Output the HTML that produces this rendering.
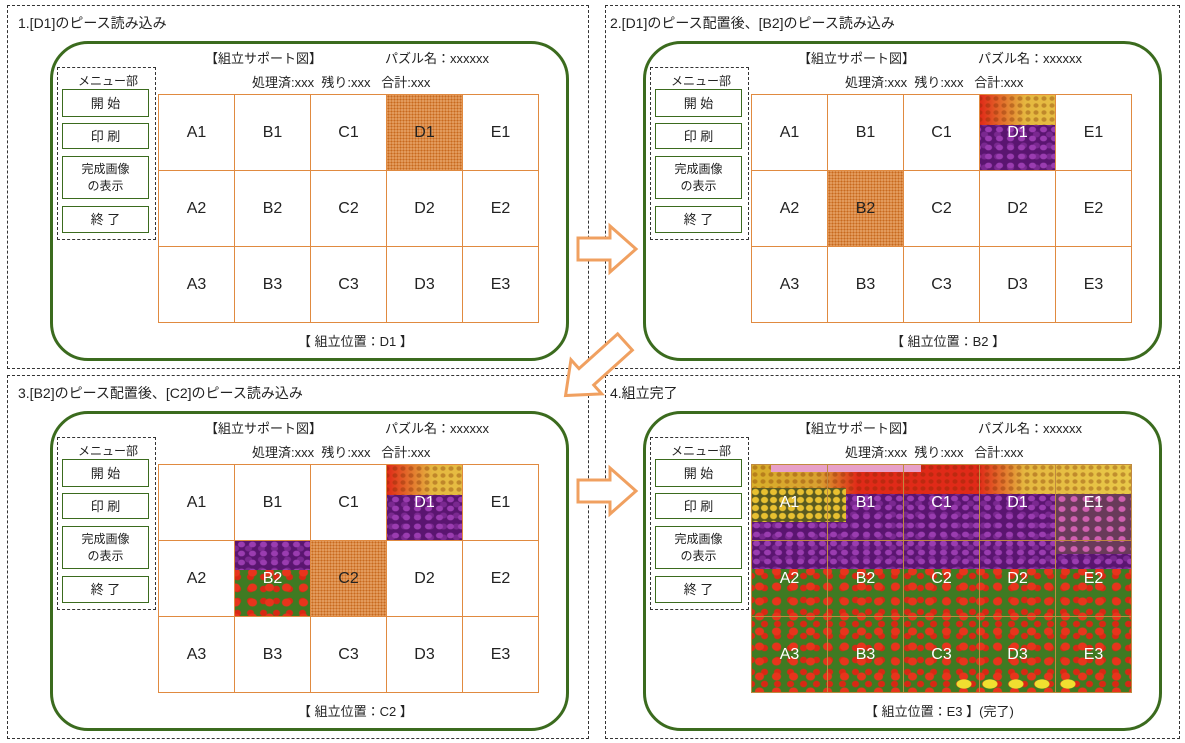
<!DOCTYPE html>
<html><head><meta charset="utf-8">
<style>
*{margin:0;padding:0;box-sizing:border-box}
body{width:1185px;height:743px;background:#fff;position:relative;overflow:hidden;font-family:"Liberation Sans","Noto Sans CJK JP",sans-serif;color:#222}
.a{position:absolute}
.dash{position:absolute;border:1px dashed #333}
.pw{position:absolute;left:0;top:0;width:600px;height:370px}
.rr{position:absolute;left:50px;top:41px;width:519px;height:320px;border:3px solid #3b6b1e;border-radius:38px}
.t{position:absolute;font-size:13px;white-space:nowrap}
.menu{position:absolute;left:57px;top:67px;width:99px;height:173px;border:1px dashed #333}
.btn{position:absolute;left:62px;width:87px;border:1.5px solid #3b6b1e;font-size:13px;display:flex;align-items:center;justify-content:center;text-align:center;line-height:17px;background:#fff}
.grid{position:absolute;left:158px;top:94px;width:381px;height:229px}
.c{position:absolute;width:77px;height:77px;border:1px solid #e08a40;display:flex;align-items:center;justify-content:center;font-size:16px;overflow:hidden}
.c span{position:relative;z-index:2}
.hat{background:#e29a5c;background-image:radial-gradient(#c8691e 0.8px,transparent 1px);background-size:3px 3px}
.tul{position:absolute;width:380px;height:228px;left:0;top:0}
.b1{position:absolute;left:0;top:0;width:380px;height:32px;background:linear-gradient(90deg,#d9b02a 0%,#d9a030 18%,#e02a18 28%,#e02a18 60%,#e5b840 72%,#e8c848 100%)}
.b1d{position:absolute;left:0;top:0;width:380px;height:32px;background-image:radial-gradient(rgba(120,40,0,.35) 0 2px,transparent 3px);background-size:8px 7px}
.b0{position:absolute;left:20px;top:0;width:150px;height:8px;background:#e8a0c8}
.by{position:absolute;left:0;top:24px;width:95px;height:34px;background:#5a5a20;background-image:radial-gradient(#e8c030 0 3px,transparent 4px);background-size:9px 8px}
.b2{position:absolute;left:0;top:30px;width:380px;height:75px;background:#5a1570;background-image:radial-gradient(#9a3cb0 0 3px,transparent 4px),radial-gradient(#7a2890 0 3px,transparent 4px);background-size:11px 9px,13px 11px;background-position:0 0,5px 4px}
.b2p{position:absolute;left:305px;top:30px;width:75px;height:60px;background:#6a3a5a;background-image:radial-gradient(#d060b0 0 3px,transparent 4px);background-size:12px 10px}
.b3{position:absolute;left:0;top:100px;width:380px;height:128px;background:#3f7a22;background-image:radial-gradient(#e8341c 0 4px,transparent 5px),radial-gradient(#d82814 0 3px,transparent 4px);background-size:17px 15px,13px 12px;background-position:0 0,7px 6px}
.b4{position:absolute;left:200px;top:212px;width:130px;height:16px;background:radial-gradient(#f0e030 0 7px,transparent 8px);background-size:26px 16px}
.wl span{color:#fff}
</style></head><body>

<div class="dash" style="left:7px;top:5px;width:582px;height:364px"></div>
<div class="dash" style="left:605px;top:5px;width:575px;height:364px"></div>
<div class="dash" style="left:7px;top:375px;width:582px;height:364px"></div>
<div class="dash" style="left:605px;top:375px;width:575px;height:364px"></div>

<div class="pw" style="left:0;top:0">
<div class="t" style="left:18px;top:13px;font-size:14px">1.[D1]のピース読み込み</div>
<div class="rr"></div>
<div class="t" style="left:205px;top:48px">【組立サポート図】</div>
<div class="t" style="left:385px;top:48px">パズル名：xxxxxx</div>
<div class="t" style="left:252px;top:72px">処理済:xxx&nbsp; 残り:xxx&nbsp;&nbsp; 合計:xxx</div>
<div class="menu"></div>
<div class="t" style="left:78px;top:72px;font-size:12px">メニュー部</div>
<div class="btn" style="top:89px;height:28px">開 始</div>
<div class="btn" style="top:123px;height:26px">印 刷</div>
<div class="btn" style="top:156px;height:43px;font-size:12px">完成画像<br>の表示</div>
<div class="btn" style="top:206px;height:27px">終 了</div>
<div class="grid">
<div class="c" style="left:0;top:0"><span>A1</span></div><div class="c" style="left:76px;top:0"><span>B1</span></div><div class="c" style="left:152px;top:0"><span>C1</span></div><div class="c hat" style="left:228px;top:0"><span>D1</span></div><div class="c" style="left:304px;top:0"><span>E1</span></div>
<div class="c" style="left:0;top:76px"><span>A2</span></div><div class="c" style="left:76px;top:76px"><span>B2</span></div><div class="c" style="left:152px;top:76px"><span>C2</span></div><div class="c" style="left:228px;top:76px"><span>D2</span></div><div class="c" style="left:304px;top:76px"><span>E2</span></div>
<div class="c" style="left:0;top:152px"><span>A3</span></div><div class="c" style="left:76px;top:152px"><span>B3</span></div><div class="c" style="left:152px;top:152px"><span>C3</span></div><div class="c" style="left:228px;top:152px"><span>D3</span></div><div class="c" style="left:304px;top:152px"><span>E3</span></div>
</div>
<div class="t" style="left:298px;top:331px">【 組立位置：D1 】</div>
</div>

<div class="pw" style="left:593px;top:0">
<div class="t" style="left:17px;top:13px;font-size:14px">2.[D1]のピース配置後、[B2]のピース読み込み</div>
<div class="rr"></div>
<div class="t" style="left:205px;top:48px">【組立サポート図】</div>
<div class="t" style="left:385px;top:48px">パズル名：xxxxxx</div>
<div class="t" style="left:252px;top:72px">処理済:xxx&nbsp; 残り:xxx&nbsp;&nbsp; 合計:xxx</div>
<div class="menu"></div>
<div class="t" style="left:78px;top:72px;font-size:12px">メニュー部</div>
<div class="btn" style="top:89px;height:28px">開 始</div>
<div class="btn" style="top:123px;height:26px">印 刷</div>
<div class="btn" style="top:156px;height:43px;font-size:12px">完成画像<br>の表示</div>
<div class="btn" style="top:206px;height:27px">終 了</div>
<div class="grid">
<div class="c" style="left:0;top:0"><span>A1</span></div><div class="c" style="left:76px;top:0"><span>B1</span></div><div class="c" style="left:152px;top:0"><span>C1</span></div>
<div class="c wl" style="left:228px;top:0"><div class="tul" style="left:-228px;top:0"><div class="b1"></div><div class="b1d"></div><div class="b0"></div><div class="b3"></div><div class="b2"></div><div class="by"></div><div class="b2p"></div></div><span>D1</span></div>
<div class="c" style="left:304px;top:0"><span>E1</span></div>
<div class="c" style="left:0;top:76px"><span>A2</span></div><div class="c hat" style="left:76px;top:76px"><span>B2</span></div><div class="c" style="left:152px;top:76px"><span>C2</span></div><div class="c" style="left:228px;top:76px"><span>D2</span></div><div class="c" style="left:304px;top:76px"><span>E2</span></div>
<div class="c" style="left:0;top:152px"><span>A3</span></div><div class="c" style="left:76px;top:152px"><span>B3</span></div><div class="c" style="left:152px;top:152px"><span>C3</span></div><div class="c" style="left:228px;top:152px"><span>D3</span></div><div class="c" style="left:304px;top:152px"><span>E3</span></div>
</div>
<div class="t" style="left:298px;top:331px">【 組立位置：B2 】</div>
</div>

<div class="pw" style="left:0;top:370px">
<div class="t" style="left:18px;top:13px;font-size:14px">3.[B2]のピース配置後、[C2]のピース読み込み</div>
<div class="rr"></div>
<div class="t" style="left:205px;top:48px">【組立サポート図】</div>
<div class="t" style="left:385px;top:48px">パズル名：xxxxxx</div>
<div class="t" style="left:252px;top:72px">処理済:xxx&nbsp; 残り:xxx&nbsp;&nbsp; 合計:xxx</div>
<div class="menu"></div>
<div class="t" style="left:78px;top:72px;font-size:12px">メニュー部</div>
<div class="btn" style="top:89px;height:28px">開 始</div>
<div class="btn" style="top:123px;height:26px">印 刷</div>
<div class="btn" style="top:156px;height:43px;font-size:12px">完成画像<br>の表示</div>
<div class="btn" style="top:206px;height:27px">終 了</div>
<div class="grid">
<div class="c" style="left:0;top:0"><span>A1</span></div><div class="c" style="left:76px;top:0"><span>B1</span></div><div class="c" style="left:152px;top:0"><span>C1</span></div>
<div class="c wl" style="left:228px;top:0"><div class="tul" style="left:-228px;top:0"><div class="b1"></div><div class="b1d"></div><div class="b0"></div><div class="b3"></div><div class="b2"></div><div class="by"></div><div class="b2p"></div></div><span>D1</span></div>
<div class="c" style="left:304px;top:0"><span>E1</span></div>
<div class="c" style="left:0;top:76px"><span>A2</span></div>
<div class="c wl" style="left:76px;top:76px"><div class="tul" style="left:-76px;top:-76px"><div class="b1"></div><div class="b1d"></div><div class="b0"></div><div class="b3"></div><div class="b2"></div><div class="by"></div><div class="b2p"></div></div><span>B2</span></div>
<div class="c hat" style="left:152px;top:76px"><span>C2</span></div><div class="c" style="left:228px;top:76px"><span>D2</span></div><div class="c" style="left:304px;top:76px"><span>E2</span></div>
<div class="c" style="left:0;top:152px"><span>A3</span></div><div class="c" style="left:76px;top:152px"><span>B3</span></div><div class="c" style="left:152px;top:152px"><span>C3</span></div><div class="c" style="left:228px;top:152px"><span>D3</span></div><div class="c" style="left:304px;top:152px"><span>E3</span></div>
</div>
<div class="t" style="left:298px;top:331px">【 組立位置：C2 】</div>
</div>

<div class="pw" style="left:593px;top:370px">
<div class="t" style="left:17px;top:13px;font-size:14px">4.組立完了</div>
<div class="rr"></div>
<div class="t" style="left:205px;top:48px">【組立サポート図】</div>
<div class="t" style="left:385px;top:48px">パズル名：xxxxxx</div>
<div class="t" style="left:252px;top:72px">処理済:xxx&nbsp; 残り:xxx&nbsp;&nbsp; 合計:xxx</div>
<div class="menu"></div>
<div class="t" style="left:78px;top:72px;font-size:12px">メニュー部</div>
<div class="btn" style="top:89px;height:28px">開 始</div>
<div class="btn" style="top:123px;height:26px">印 刷</div>
<div class="btn" style="top:156px;height:43px;font-size:12px">完成画像<br>の表示</div>
<div class="btn" style="top:206px;height:27px">終 了</div>
<div class="grid" style="overflow:hidden">
<div class="tul"><div class="b1"></div><div class="b1d"></div><div class="b0"></div><div class="b3"></div><div class="b2"></div><div class="by"></div><div class="b2p"></div><div class="b4"></div></div>
<div class="c wl" style="left:0;top:0;border-color:#c08a40"><span>A1</span></div><div class="c wl" style="left:76px;top:0;border-color:#c08a40"><span>B1</span></div><div class="c wl" style="left:152px;top:0;border-color:#c08a40"><span>C1</span></div><div class="c wl" style="left:228px;top:0;border-color:#c08a40"><span>D1</span></div><div class="c wl" style="left:304px;top:0;border-color:#c08a40"><span>E1</span></div>
<div class="c wl" style="left:0;top:76px;border-color:#c08a40"><span>A2</span></div><div class="c wl" style="left:76px;top:76px;border-color:#c08a40"><span>B2</span></div><div class="c wl" style="left:152px;top:76px;border-color:#c08a40"><span>C2</span></div><div class="c wl" style="left:228px;top:76px;border-color:#c08a40"><span>D2</span></div><div class="c wl" style="left:304px;top:76px;border-color:#c08a40"><span>E2</span></div>
<div class="c wl" style="left:0;top:152px;border-color:#c08a40"><span>A3</span></div><div class="c wl" style="left:76px;top:152px;border-color:#c08a40"><span>B3</span></div><div class="c wl" style="left:152px;top:152px;border-color:#c08a40"><span>C3</span></div><div class="c wl" style="left:228px;top:152px;border-color:#c08a40"><span>D3</span></div><div class="c wl" style="left:304px;top:152px;border-color:#c08a40"><span>E3</span></div>
</div>
<div class="t" style="left:272px;top:331px">【 組立位置：E3 】(完了)</div>
</div>

<svg class="a" style="left:0;top:0" width="1185" height="743">
<g fill="#fff" stroke="#f0a060" stroke-width="3" stroke-linejoin="miter">
<polygon transform="translate(578,249)" points="0,-11 32,-11 32,-23 58,0 32,23 32,11 0,11"/>
<polygon transform="translate(578,491)" points="0,-11 32,-11 32,-23 58,0 32,23 32,11 0,11"/>
<polygon transform="translate(625,342) rotate(138)" points="0,-11 52,-11 52,-23 80,0 52,23 52,11 0,11"/>
</g>
</svg>
</body></html>
